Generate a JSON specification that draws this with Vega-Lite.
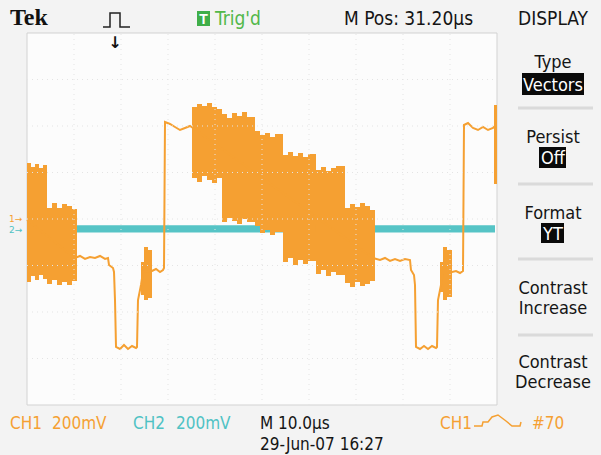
{
  "$schema": "https://vega.github.io/schema/vega-lite/v6.json",
  "width": 601,
  "height": 455,
  "autosize": {"type": "none"},
  "padding": 0,
  "background": "#f3f3f3",
  "config": {"view": {"stroke": null}},
  "datasets": {
    "screen": [{"t0": 0, "t1": 100, "hi": 800, "lo": -800}],
    "ch2": [{"t0": 0, "t1": 99.574, "hi": -27.0, "lo": -58.0}],
    "bursts": [
      {"t0": 0, "t1": 0.851, "hi": 240.9, "lo": -271.0},
      {"t0": 0.851, "t1": 1.702, "hi": 223.7, "lo": -245.2},
      {"t0": 1.702, "t1": 2.553, "hi": 236.6, "lo": -262.4},
      {"t0": 2.553, "t1": 3.404, "hi": 219.4, "lo": -240.9},
      {"t0": 3.404, "t1": 4.255, "hi": 232.3, "lo": -258.1},
      {"t0": 4.255, "t1": 5.319, "hi": 47.3, "lo": -279.6},
      {"t0": 5.319, "t1": 6.383, "hi": 68.8, "lo": -262.4},
      {"t0": 6.383, "t1": 7.447, "hi": 47.3, "lo": -283.9},
      {"t0": 7.447, "t1": 8.511, "hi": 64.5, "lo": -271.0},
      {"t0": 8.511, "t1": 9.574, "hi": 55.9, "lo": -283.9},
      {"t0": 9.574, "t1": 10.638, "hi": 43.0, "lo": -266.7},
      {"t0": 24.255, "t1": 24.894, "hi": -184.9, "lo": -326.9},
      {"t0": 24.894, "t1": 25.745, "hi": -120.4, "lo": -348.4},
      {"t0": 25.745, "t1": 26.596, "hi": -133.3, "lo": -339.8},
      {"t0": 35.106, "t1": 36.170, "hi": 481.7, "lo": 176.3},
      {"t0": 36.170, "t1": 37.234, "hi": 494.6, "lo": 159.1},
      {"t0": 37.234, "t1": 38.298, "hi": 486.0, "lo": 185.0},
      {"t0": 38.298, "t1": 39.362, "hi": 498.9, "lo": 167.7},
      {"t0": 39.362, "t1": 40.426, "hi": 481.7, "lo": 154.8},
      {"t0": 40.426, "t1": 41.489, "hi": 473.1, "lo": 176.3},
      {"t0": 41.489, "t1": 42.553, "hi": 451.6, "lo": -12.9},
      {"t0": 42.553, "t1": 43.617, "hi": 434.4, "lo": 4.3},
      {"t0": 43.617, "t1": 44.681, "hi": 455.9, "lo": -8.6},
      {"t0": 44.681, "t1": 45.745, "hi": 443.0, "lo": -21.5},
      {"t0": 45.745, "t1": 46.809, "hi": 460.2, "lo": 0},
      {"t0": 46.809, "t1": 48.511, "hi": 438.7, "lo": -12.9},
      {"t0": 48.511, "t1": 49.574, "hi": 378.5, "lo": -30.1},
      {"t0": 49.574, "t1": 50.638, "hi": 361.3, "lo": -60.2},
      {"t0": 50.638, "t1": 51.702, "hi": 369.9, "lo": -47.3},
      {"t0": 51.702, "t1": 52.766, "hi": 352.7, "lo": -68.8},
      {"t0": 52.766, "t1": 54.468, "hi": 365.6, "lo": -55.9},
      {"t0": 54.468, "t1": 55.532, "hi": 275.3, "lo": -184.9},
      {"t0": 55.532, "t1": 56.596, "hi": 288.2, "lo": -167.7},
      {"t0": 56.596, "t1": 57.660, "hi": 271.0, "lo": -197.9},
      {"t0": 57.660, "t1": 58.723, "hi": 283.9, "lo": -176.3},
      {"t0": 58.723, "t1": 59.787, "hi": 266.7, "lo": -193.5},
      {"t0": 59.787, "t1": 61.489, "hi": 279.6, "lo": -180.6},
      {"t0": 61.489, "t1": 62.553, "hi": 210.8, "lo": -236.6},
      {"t0": 62.553, "t1": 63.617, "hi": 223.7, "lo": -219.4},
      {"t0": 63.617, "t1": 64.681, "hi": 206.5, "lo": -245.2},
      {"t0": 64.681, "t1": 65.745, "hi": 219.4, "lo": -228.0},
      {"t0": 65.745, "t1": 67.660, "hi": 228.0, "lo": -240.9},
      {"t0": 67.660, "t1": 68.723, "hi": 47.3, "lo": -275.3},
      {"t0": 68.723, "t1": 69.787, "hi": 64.5, "lo": -292.5},
      {"t0": 69.787, "t1": 70.851, "hi": 51.6, "lo": -271.0},
      {"t0": 70.851, "t1": 71.915, "hi": 68.8, "lo": -288.2},
      {"t0": 71.915, "t1": 72.979, "hi": 55.9, "lo": -279.6},
      {"t0": 72.979, "t1": 74.043, "hi": 38.7, "lo": -266.7},
      {"t0": 87.872, "t1": 88.511, "hi": -184.9, "lo": -314.0},
      {"t0": 88.511, "t1": 89.362, "hi": -120.4, "lo": -348.4},
      {"t0": 89.362, "t1": 90.426, "hi": -133.3, "lo": -335.5},
      {"t0": 99.362, "t1": 100.0, "hi": 490.3, "lo": 150.5}
    ],
    "ch1": [
      {"i": 1, "t": 0, "v": -4.3},
      {"i": 2, "t": 10.213, "v": -167.7},
      {"i": 3, "t": 11.277, "v": -159.1},
      {"i": 4, "t": 12.340, "v": -172.0},
      {"i": 5, "t": 13.404, "v": -163.4},
      {"i": 6, "t": 14.468, "v": -167.7},
      {"i": 7, "t": 15.532, "v": -159.1},
      {"i": 8, "t": 16.596, "v": -172.0},
      {"i": 9, "t": 17.234, "v": -167.7},
      {"i": 10, "t": 17.447, "v": -197.9},
      {"i": 11, "t": 18.298, "v": -210.8},
      {"i": 12, "t": 18.511, "v": -228.0},
      {"i": 13, "t": 18.723, "v": -348.4},
      {"i": 14, "t": 18.936, "v": -550.5},
      {"i": 15, "t": 19.787, "v": -559.1},
      {"i": 16, "t": 20.638, "v": -541.9},
      {"i": 17, "t": 21.489, "v": -559.1},
      {"i": 18, "t": 22.340, "v": -546.2},
      {"i": 19, "t": 23.191, "v": -554.8},
      {"i": 20, "t": 23.404, "v": -550.5},
      {"i": 21, "t": 23.617, "v": -348.4},
      {"i": 22, "t": 24.255, "v": -283.9},
      {"i": 23, "t": 24.681, "v": -228.0},
      {"i": 24, "t": 26.596, "v": -223.7},
      {"i": 25, "t": 27.447, "v": -215.1},
      {"i": 26, "t": 28.298, "v": -228.0},
      {"i": 27, "t": 28.936, "v": -219.4},
      {"i": 28, "t": 29.149, "v": -210.8},
      {"i": 29, "t": 29.362, "v": 417.2},
      {"i": 30, "t": 30.426, "v": 408.6},
      {"i": 31, "t": 31.489, "v": 395.7},
      {"i": 32, "t": 32.553, "v": 382.8},
      {"i": 33, "t": 33.617, "v": 391.4},
      {"i": 34, "t": 34.681, "v": 400.0},
      {"i": 35, "t": 35.319, "v": 391.4},
      {"i": 36, "t": 73.617, "v": -167.7},
      {"i": 37, "t": 75.106, "v": -176.3},
      {"i": 38, "t": 76.170, "v": -167.7},
      {"i": 39, "t": 77.234, "v": -180.6},
      {"i": 40, "t": 78.298, "v": -172.0},
      {"i": 41, "t": 79.362, "v": -180.6},
      {"i": 42, "t": 80.426, "v": -172.0},
      {"i": 43, "t": 81.489, "v": -176.3},
      {"i": 44, "t": 81.702, "v": -219.4},
      {"i": 45, "t": 82.340, "v": -240.9},
      {"i": 46, "t": 82.553, "v": -283.9},
      {"i": 47, "t": 82.766, "v": -550.5},
      {"i": 48, "t": 83.617, "v": -559.1},
      {"i": 49, "t": 84.468, "v": -546.2},
      {"i": 50, "t": 85.319, "v": -559.1},
      {"i": 51, "t": 86.170, "v": -546.2},
      {"i": 52, "t": 87.021, "v": -554.8},
      {"i": 53, "t": 87.234, "v": -550.5},
      {"i": 54, "t": 87.447, "v": -348.4},
      {"i": 55, "t": 88.085, "v": -283.9},
      {"i": 56, "t": 88.511, "v": -228.0},
      {"i": 57, "t": 90.426, "v": -228.0},
      {"i": 58, "t": 91.277, "v": -223.7},
      {"i": 59, "t": 92.128, "v": -232.3},
      {"i": 60, "t": 92.766, "v": -223.7},
      {"i": 61, "t": 92.979, "v": 404.3},
      {"i": 62, "t": 93.830, "v": 412.9},
      {"i": 63, "t": 94.894, "v": 391.4},
      {"i": 64, "t": 95.957, "v": 382.8},
      {"i": 65, "t": 97.021, "v": 395.7},
      {"i": 66, "t": 98.085, "v": 382.8},
      {"i": 67, "t": 99.149, "v": 391.4},
      {"i": 68, "t": 99.574, "v": 400.0}
    ],
    "gridT": [{"t": 10}, {"t": 20}, {"t": 30}, {"t": 40}, {"t": 50}, {"t": 60}, {"t": 70}, {"t": 80}, {"t": 90}],
    "gridV": [{"v": -600}, {"v": -400}, {"v": -200}, {"v": 0}, {"v": 200}, {"v": 400}, {"v": 600}],
    "seps": [
      {"t0": 104.468, "t1": 120.426, "v": 477.4},
      {"t0": 104.468, "t1": 120.426, "v": 150.5},
      {"t0": 104.468, "t1": 120.426, "v": -172.0},
      {"t0": 104.468, "t1": 120.426, "v": -498.9}
    ],
    "boxes": [
      {"t0": 105.319, "t1": 118.511, "hi": 628.0, "lo": 533.3, "kind": "sel"},
      {"t0": 108.936, "t1": 114.681, "hi": 309.7, "lo": 219.4, "kind": "sel"},
      {"t0": 109.362, "t1": 114.255, "hi": -17.2, "lo": -103.2, "kind": "sel"},
      {"t0": 36.170, "t1": 38.936, "hi": 894.6, "lo": 830.1, "kind": "trig"}
    ],
    "icons": [
      {"i": 1, "t": 16.170, "v": 825.8, "icon": "trig"},
      {"i": 2, "t": 17.660, "v": 825.8, "icon": "trig"},
      {"i": 3, "t": 17.660, "v": 886.0, "icon": "trig"},
      {"i": 4, "t": 19.787, "v": 886.0, "icon": "trig"},
      {"i": 5, "t": 19.787, "v": 825.8, "icon": "trig"},
      {"i": 6, "t": 21.915, "v": 825.8, "icon": "trig"},
      {"i": 1, "t": 95.106, "v": -890.3, "icon": "slope"},
      {"i": 2, "t": 96.809, "v": -890.3, "icon": "slope"},
      {"i": 3, "t": 97.021, "v": -873.1, "icon": "slope"},
      {"i": 4, "t": 98.085, "v": -873.1, "icon": "slope"},
      {"i": 5, "t": 98.936, "v": -851.6, "icon": "slope"},
      {"i": 6, "t": 100.213, "v": -843.0, "icon": "slope"},
      {"i": 7, "t": 101.915, "v": -868.8, "icon": "slope"},
      {"i": 8, "t": 103.191, "v": -890.3, "icon": "slope"},
      {"i": 9, "t": 104.894, "v": -890.3, "icon": "slope"},
      {"i": 10, "t": 105.106, "v": -873.1, "icon": "slope"}
    ],
    "labels": [
      {"label": "Tek", "t": -3.617, "v": 834.4, "role": "tek"},
      {"label": "T", "t": 37.553, "v": 838.7, "role": "trigT"},
      {"label": "Trig'd", "t": 40.0, "v": 834.4, "role": "trig"},
      {"label": "M Pos: 31.20µs", "t": 67.447, "v": 834.4, "role": "hdr"},
      {"label": "↓", "t": 18.723, "v": 735.5, "role": "arrow"},
      {"label": "DISPLAY", "t": 111.915, "v": 834.4, "role": "hdrC"},
      {"label": "Type", "t": 111.915, "v": 649.5, "role": "menu"},
      {"label": "Vectors", "t": 111.915, "v": 550.5, "role": "menuSel"},
      {"label": "Persist", "t": 111.915, "v": 326.9, "role": "menu"},
      {"label": "Off", "t": 111.915, "v": 236.6, "role": "menuSel"},
      {"label": "Format", "t": 111.915, "v": 0, "role": "menu"},
      {"label": "YT", "t": 111.915, "v": -90.3, "role": "menuSel"},
      {"label": "Contrast", "t": 111.915, "v": -322.6, "role": "menu"},
      {"label": "Increase", "t": 111.915, "v": -408.6, "role": "menu"},
      {"label": "Contrast", "t": 111.915, "v": -640.9, "role": "menu"},
      {"label": "Decrease", "t": 111.915, "v": -726.9, "role": "menu"},
      {"label": "CH1", "t": -3.617, "v": -903.2, "role": "ch1"},
      {"label": "200mV", "t": 5.319, "v": -903.2, "role": "ch1"},
      {"label": "CH2", "t": 22.553, "v": -903.2, "role": "ch2"},
      {"label": "200mV", "t": 31.702, "v": -903.2, "role": "ch2"},
      {"label": "M 10.0µs", "t": 49.574, "v": -903.2, "role": "foot"},
      {"label": "29-Jun-07 16:27", "t": 49.574, "v": -993.5, "role": "foot"},
      {"label": "CH1", "t": 87.872, "v": -903.2, "role": "ch1"},
      {"label": "#70", "t": 107.447, "v": -903.2, "role": "ch1"},
      {"label": "1→", "t": -3.83, "v": -12.9, "role": "mk1"},
      {"label": "2→", "t": -3.83, "v": -60.2, "role": "mk2"}
    ]
  },
  "layer": [
    {
      "data": {"name": "screen"},
      "mark": {"type": "rect", "fill": "#fcfcfc", "stroke": "#d2d2d2", "strokeWidth": 1},
      "encoding": {
        "x": {"field": "t0", "type": "quantitative", "axis": null, "scale": {"domain": [-5.745, 122.128], "nice": false, "zero": false}},
        "x2": {"field": "t1"},
        "y": {"field": "hi", "type": "quantitative", "axis": null, "scale": {"domain": [-1015.1, 941.9], "nice": false, "zero": false}},
        "y2": {"field": "lo"}
      }
    },
    {
      "data": {"name": "ch2"},
      "mark": {"type": "rect", "fill": "#56c4c6"},
      "encoding": {
        "x": {"field": "t0", "type": "quantitative", "axis": null, "scale": {"domain": [-5.745, 122.128], "nice": false, "zero": false}},
        "x2": {"field": "t1"},
        "y": {"field": "hi", "type": "quantitative", "axis": null, "scale": {"domain": [-1015.1, 941.9], "nice": false, "zero": false}},
        "y2": {"field": "lo"}
      }
    },
    {
      "data": {"name": "bursts"},
      "mark": {"type": "rect", "fill": "#f5a032"},
      "encoding": {
        "x": {"field": "t0", "type": "quantitative", "axis": null, "scale": {"domain": [-5.745, 122.128], "nice": false, "zero": false}},
        "x2": {"field": "t1"},
        "y": {"field": "hi", "type": "quantitative", "axis": null, "scale": {"domain": [-1015.1, 941.9], "nice": false, "zero": false}},
        "y2": {"field": "lo"}
      }
    },
    {
      "data": {"name": "ch1"},
      "mark": {"type": "line", "color": "#f5a032", "strokeWidth": 2},
      "encoding": {
        "x": {"field": "t", "type": "quantitative", "axis": null, "scale": {"domain": [-5.745, 122.128], "nice": false, "zero": false}},
        "y": {"field": "v", "type": "quantitative", "axis": null, "scale": {"domain": [-1015.1, 941.9], "nice": false, "zero": false}},
        "order": {"field": "i", "type": "quantitative"}
      }
    },
    {
      "data": {"name": "gridT"},
      "mark": {"type": "rule", "color": "#e4e4e4", "strokeDash": [1, 4], "strokeWidth": 1},
      "encoding": {
        "x": {"field": "t", "type": "quantitative", "axis": null, "scale": {"domain": [-5.745, 122.128], "nice": false, "zero": false}},
        "y": {"datum": -800, "type": "quantitative", "axis": null, "scale": {"domain": [-1015.1, 941.9], "nice": false, "zero": false}},
        "y2": {"datum": 800}
      }
    },
    {
      "data": {"name": "gridV"},
      "mark": {"type": "rule", "color": "#e4e4e4", "strokeDash": [1, 4], "strokeWidth": 1},
      "encoding": {
        "y": {"field": "v", "type": "quantitative", "axis": null, "scale": {"domain": [-1015.1, 941.9], "nice": false, "zero": false}},
        "x": {"datum": 0, "type": "quantitative", "axis": null, "scale": {"domain": [-5.745, 122.128], "nice": false, "zero": false}},
        "x2": {"datum": 100}
      }
    },
    {
      "data": {"name": "seps"},
      "mark": {"type": "rule", "color": "#dadada", "strokeWidth": 3},
      "encoding": {
        "x": {"field": "t0", "type": "quantitative", "axis": null, "scale": {"domain": [-5.745, 122.128], "nice": false, "zero": false}},
        "x2": {"field": "t1"},
        "y": {"field": "v", "type": "quantitative", "axis": null, "scale": {"domain": [-1015.1, 941.9], "nice": false, "zero": false}}
      }
    },
    {
      "data": {"name": "boxes"},
      "mark": {"type": "rect"},
      "encoding": {
        "x": {"field": "t0", "type": "quantitative", "axis": null, "scale": {"domain": [-5.745, 122.128], "nice": false, "zero": false}},
        "x2": {"field": "t1"},
        "y": {"field": "hi", "type": "quantitative", "axis": null, "scale": {"domain": [-1015.1, 941.9], "nice": false, "zero": false}},
        "y2": {"field": "lo"},
        "color": {"field": "kind", "type": "nominal", "legend": null, "scale": {"domain": ["sel", "trig"], "range": ["#0a0a0a", "#3fae49"]}}
      }
    },
    {
      "data": {"name": "icons"},
      "transform": [{"filter": "datum.icon === 'trig'"}],
      "mark": {"type": "line", "color": "#222222", "strokeWidth": 1.5},
      "encoding": {
        "x": {"field": "t", "type": "quantitative", "axis": null, "scale": {"domain": [-5.745, 122.128], "nice": false, "zero": false}},
        "y": {"field": "v", "type": "quantitative", "axis": null, "scale": {"domain": [-1015.1, 941.9], "nice": false, "zero": false}},
        "order": {"field": "i", "type": "quantitative"}
      }
    },
    {
      "data": {"name": "icons"},
      "transform": [{"filter": "datum.icon === 'slope'"}],
      "mark": {"type": "line", "color": "#f5a032", "strokeWidth": 1.5},
      "encoding": {
        "x": {"field": "t", "type": "quantitative", "axis": null, "scale": {"domain": [-5.745, 122.128], "nice": false, "zero": false}},
        "y": {"field": "v", "type": "quantitative", "axis": null, "scale": {"domain": [-1015.1, 941.9], "nice": false, "zero": false}},
        "order": {"field": "i", "type": "quantitative"}
      }
    },
    {
      "data": {"name": "labels"},
      "transform": [{"filter": "datum.role === 'tek'"}],
      "mark": {"type": "text", "align": "left", "baseline": "alphabetic", "font": "Liberation Serif", "fontWeight": "bold", "fontSize": 24, "color": "#111111"},
      "encoding": {
        "x": {"field": "t", "type": "quantitative", "axis": null, "scale": {"domain": [-5.745, 122.128], "nice": false, "zero": false}},
        "y": {"field": "v", "type": "quantitative", "axis": null, "scale": {"domain": [-1015.1, 941.9], "nice": false, "zero": false}},
        "text": {"field": "label"}
      }
    },
    {
      "data": {"name": "labels"},
      "transform": [{"filter": "datum.role === 'hdr'"}],
      "mark": {"type": "text", "align": "left", "baseline": "alphabetic", "font": "DejaVu Sans Condensed", "fontSize": 19, "color": "#151515"},
      "encoding": {
        "x": {"field": "t", "type": "quantitative", "axis": null, "scale": {"domain": [-5.745, 122.128], "nice": false, "zero": false}},
        "y": {"field": "v", "type": "quantitative", "axis": null, "scale": {"domain": [-1015.1, 941.9], "nice": false, "zero": false}},
        "text": {"field": "label"}
      }
    },
    {
      "data": {"name": "labels"},
      "transform": [{"filter": "datum.role === 'hdrC'"}],
      "mark": {"type": "text", "align": "center", "baseline": "alphabetic", "font": "DejaVu Sans Condensed", "fontSize": 19, "color": "#151515"},
      "encoding": {
        "x": {"field": "t", "type": "quantitative", "axis": null, "scale": {"domain": [-5.745, 122.128], "nice": false, "zero": false}},
        "y": {"field": "v", "type": "quantitative", "axis": null, "scale": {"domain": [-1015.1, 941.9], "nice": false, "zero": false}},
        "text": {"field": "label"}
      }
    },
    {
      "data": {"name": "labels"},
      "transform": [{"filter": "datum.role === 'foot'"}],
      "mark": {"type": "text", "align": "left", "baseline": "alphabetic", "font": "DejaVu Sans Condensed", "fontSize": 17, "color": "#151515"},
      "encoding": {
        "x": {"field": "t", "type": "quantitative", "axis": null, "scale": {"domain": [-5.745, 122.128], "nice": false, "zero": false}},
        "y": {"field": "v", "type": "quantitative", "axis": null, "scale": {"domain": [-1015.1, 941.9], "nice": false, "zero": false}},
        "text": {"field": "label"}
      }
    },
    {
      "data": {"name": "labels"},
      "transform": [{"filter": "datum.role === 'trig'"}],
      "mark": {"type": "text", "align": "left", "baseline": "alphabetic", "font": "DejaVu Sans Condensed", "fontSize": 19, "color": "#52b84a"},
      "encoding": {
        "x": {"field": "t", "type": "quantitative", "axis": null, "scale": {"domain": [-5.745, 122.128], "nice": false, "zero": false}},
        "y": {"field": "v", "type": "quantitative", "axis": null, "scale": {"domain": [-1015.1, 941.9], "nice": false, "zero": false}},
        "text": {"field": "label"}
      }
    },
    {
      "data": {"name": "labels"},
      "transform": [{"filter": "datum.role === 'trigT'"}],
      "mark": {"type": "text", "align": "center", "baseline": "alphabetic", "font": "Liberation Sans", "fontWeight": "bold", "fontSize": 14, "color": "#ffffff"},
      "encoding": {
        "x": {"field": "t", "type": "quantitative", "axis": null, "scale": {"domain": [-5.745, 122.128], "nice": false, "zero": false}},
        "y": {"field": "v", "type": "quantitative", "axis": null, "scale": {"domain": [-1015.1, 941.9], "nice": false, "zero": false}},
        "text": {"field": "label"}
      }
    },
    {
      "data": {"name": "labels"},
      "transform": [{"filter": "datum.role === 'arrow'"}],
      "mark": {"type": "text", "align": "center", "baseline": "alphabetic", "font": "DejaVu Sans", "fontWeight": "bold", "fontSize": 16, "color": "#111111"},
      "encoding": {
        "x": {"field": "t", "type": "quantitative", "axis": null, "scale": {"domain": [-5.745, 122.128], "nice": false, "zero": false}},
        "y": {"field": "v", "type": "quantitative", "axis": null, "scale": {"domain": [-1015.1, 941.9], "nice": false, "zero": false}},
        "text": {"field": "label"}
      }
    },
    {
      "data": {"name": "labels"},
      "transform": [{"filter": "datum.role === 'menu'"}],
      "mark": {"type": "text", "align": "center", "baseline": "alphabetic", "font": "DejaVu Sans Condensed", "fontSize": 18, "color": "#151515"},
      "encoding": {
        "x": {"field": "t", "type": "quantitative", "axis": null, "scale": {"domain": [-5.745, 122.128], "nice": false, "zero": false}},
        "y": {"field": "v", "type": "quantitative", "axis": null, "scale": {"domain": [-1015.1, 941.9], "nice": false, "zero": false}},
        "text": {"field": "label"}
      }
    },
    {
      "data": {"name": "labels"},
      "transform": [{"filter": "datum.role === 'menuSel'"}],
      "mark": {"type": "text", "align": "center", "baseline": "alphabetic", "font": "DejaVu Sans Condensed", "fontSize": 18, "color": "#ffffff"},
      "encoding": {
        "x": {"field": "t", "type": "quantitative", "axis": null, "scale": {"domain": [-5.745, 122.128], "nice": false, "zero": false}},
        "y": {"field": "v", "type": "quantitative", "axis": null, "scale": {"domain": [-1015.1, 941.9], "nice": false, "zero": false}},
        "text": {"field": "label"}
      }
    },
    {
      "data": {"name": "labels"},
      "transform": [{"filter": "datum.role === 'ch1'"}],
      "mark": {"type": "text", "align": "left", "baseline": "alphabetic", "font": "DejaVu Sans Condensed", "fontSize": 17, "color": "#f5a032"},
      "encoding": {
        "x": {"field": "t", "type": "quantitative", "axis": null, "scale": {"domain": [-5.745, 122.128], "nice": false, "zero": false}},
        "y": {"field": "v", "type": "quantitative", "axis": null, "scale": {"domain": [-1015.1, 941.9], "nice": false, "zero": false}},
        "text": {"field": "label"}
      }
    },
    {
      "data": {"name": "labels"},
      "transform": [{"filter": "datum.role === 'ch2'"}],
      "mark": {"type": "text", "align": "left", "baseline": "alphabetic", "font": "DejaVu Sans Condensed", "fontSize": 17, "color": "#4fc2c4"},
      "encoding": {
        "x": {"field": "t", "type": "quantitative", "axis": null, "scale": {"domain": [-5.745, 122.128], "nice": false, "zero": false}},
        "y": {"field": "v", "type": "quantitative", "axis": null, "scale": {"domain": [-1015.1, 941.9], "nice": false, "zero": false}},
        "text": {"field": "label"}
      }
    },
    {
      "data": {"name": "labels"},
      "transform": [{"filter": "datum.role === 'mk1'"}],
      "mark": {"type": "text", "align": "left", "baseline": "alphabetic", "font": "DejaVu Sans", "fontSize": 9, "color": "#f5a032"},
      "encoding": {
        "x": {"field": "t", "type": "quantitative", "axis": null, "scale": {"domain": [-5.745, 122.128], "nice": false, "zero": false}},
        "y": {"field": "v", "type": "quantitative", "axis": null, "scale": {"domain": [-1015.1, 941.9], "nice": false, "zero": false}},
        "text": {"field": "label"}
      }
    },
    {
      "data": {"name": "labels"},
      "transform": [{"filter": "datum.role === 'mk2'"}],
      "mark": {"type": "text", "align": "left", "baseline": "alphabetic", "font": "DejaVu Sans", "fontSize": 9, "color": "#4fc2c4"},
      "encoding": {
        "x": {"field": "t", "type": "quantitative", "axis": null, "scale": {"domain": [-5.745, 122.128], "nice": false, "zero": false}},
        "y": {"field": "v", "type": "quantitative", "axis": null, "scale": {"domain": [-1015.1, 941.9], "nice": false, "zero": false}},
        "text": {"field": "label"}
      }
    }
  ]
}
